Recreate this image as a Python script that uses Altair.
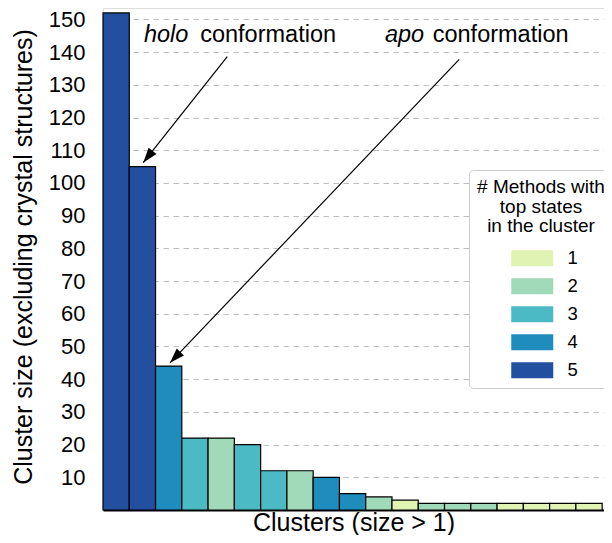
import math
import altair as alt
import pandas as pd

# ---------------- data ----------------
cluster_sizes = [152, 105, 44, 22, 22, 20, 12, 12, 10, 5, 4, 3, 2, 2, 2, 2, 2, 2, 2]
n_methods = [5, 5, 4, 3, 2, 3, 3, 2, 4, 4, 2, 1, 2, 2, 2, 1, 1, 1, 1]
method_levels = [1, 2, 3, 4, 5]
method_colors = ["#e1f3b3", "#a1dab9", "#4cbac4", "#1f8cbe", "#234fa0"]
y_ticks = list(range(10, 151, 10))

# annotations (data units: x = cluster slot, y = cluster size)
label_italic = ["holo", "apo"]
label_rest = ["conformation", "conformation"]
label_x_italic = [1.56, 10.73]
label_x_rest = [3.70, 12.55]
label_y = [143.2, 143.2]
arrow_x_start = [4.73, 13.56]
arrow_y_start = [138.6, 137.8]
arrow_x_tip = [1.53, 2.55]
arrow_y_tip = [106.2, 45.0]

legend_title = ["# Methods with", "top states", "in the cluster"]
x_title = "Clusters (size > 1)"
y_title = "Cluster size (excluding crystal structures)"

# ---------------- layout ----------------
FONT = "Liberation Sans"
W, H = 501, 502
XMAX, YMAX = 19.07, 153.5
SX, SY = W / XMAX, H / YMAX

bars = pd.DataFrame({
    "start": list(range(len(cluster_sizes))),
    "end": [i + 1 for i in range(len(cluster_sizes))],
    "size": cluster_sizes,
    "methods": n_methods,
})

arrows = pd.DataFrame({
    "xs": arrow_x_start, "ys": arrow_y_start,
    "xt": arrow_x_tip, "yt": arrow_y_tip,
})
# rotation (clockwise from "up") of the arrow direction in screen space
arrows["ang"] = [
    math.degrees(math.atan2((xt - xs) * SX, (yt - ys) * SY)) % 360
    for xs, ys, xt, yt in zip(arrow_x_start, arrow_y_start, arrow_x_tip, arrow_y_tip)
]

labels_it = pd.DataFrame({"x": label_x_italic, "y": label_y, "t": label_italic})
labels_rest = pd.DataFrame({"x": label_x_rest, "y": label_y, "t": label_rest})

xscale = alt.Scale(domain=[0, XMAX], nice=False, zero=False)
yscale = alt.Scale(domain=[0, YMAX], nice=False)

x_axis = alt.Axis(title=x_title, labels=False, ticks=False, grid=False,
                  domain=True, domainColor="black", domainWidth=2,
                  titleFont=FONT, titleFontSize=25, titleFontWeight="normal",
                  titleColor="black", titleBaseline="alphabetic", titleY=20)
y_axis = alt.Axis(title=y_title, values=y_ticks, ticks=False,
                  tickSize=0, domain=False, grid=True, gridColor="#bdbdbd",
                  gridDash=[5.5, 4.5], gridWidth=1,
                  labelFont=FONT, labelFontSize=22, labelColor="black",
                  labelPadding=18, labelOverlap=False, labelBound=False,
                  labelSeparation=0,
                  titleFont=FONT, titleFontSize=25, titleFontWeight="normal",
                  titleColor="black", titleBaseline="alphabetic",
                  titleX=-72, titleY=248.5)

bar_layer = alt.Chart(bars).mark_rect(stroke="black", strokeWidth=1.2).encode(
    x=alt.X("start:Q", scale=xscale, axis=x_axis),
    x2="end:Q",
    y=alt.Y("size:Q", scale=yscale, axis=y_axis),
    y2=alt.datum(0),
    color=alt.Color("methods:N",
                    scale=alt.Scale(domain=method_levels, range=method_colors),
                    legend=alt.Legend(
                        title=legend_title, orient="none", legendX=366, legendY=162,
                        titleFont=FONT, titleFontSize=19, titleFontWeight="normal",
                        titleColor="black", titleAlign="center", titleAnchor="middle",
                        titleLineHeight=19.5, titlePadding=13,
                        labelFont=FONT, labelFontSize=18.5, labelColor="black",
                        labelOffset=39,
                        symbolType="M-1,-1H4.25V1H-1Z", symbolSize=256,
                        symbolStrokeWidth=0, symbolOpacity=1, symbolOffset=5,
                        rowPadding=9,
                        fillColor="white", strokeColor="#cccccc", cornerRadius=4,
                        padding=8)),
)

arrow_lines = alt.Chart(arrows).mark_rule(color="black", strokeWidth=1.2).encode(
    x=alt.X("xs:Q", scale=xscale, axis=x_axis),
    y=alt.Y("ys:Q", scale=yscale, axis=y_axis),
    x2="xt:Q", y2="yt:Q",
)

arrow_heads = alt.Chart(arrows).mark_point(
    shape="M0,0L-0.667,2L0.667,2Z", size=225, filled=True, opacity=1,
    color="black", strokeWidth=0,
).encode(
    x=alt.X("xt:Q", scale=xscale, axis=x_axis),
    y=alt.Y("yt:Q", scale=yscale, axis=y_axis),
    angle=alt.Angle("ang:Q", scale=None),
)

txt_it = alt.Chart(labels_it).mark_text(
    font=FONT, fontSize=23.5, fontStyle="italic", align="left", baseline="alphabetic",
    color="black",
).encode(x=alt.X("x:Q", scale=xscale, axis=x_axis),
         y=alt.Y("y:Q", scale=yscale, axis=y_axis), text="t:N")

txt_rest = alt.Chart(labels_rest).mark_text(
    font=FONT, fontSize=23.5, align="left", baseline="alphabetic", color="black",
).encode(x=alt.X("x:Q", scale=xscale, axis=x_axis),
         y=alt.Y("y:Q", scale=yscale, axis=y_axis), text="t:N")

chart = alt.layer(bar_layer, arrow_lines, arrow_heads, txt_it, txt_rest).properties(
    width=W, height=H,
    autosize=alt.AutoSizeParams(type="none"),
    padding={"left": 95, "top": 0, "right": 0, "bottom": 25},
).configure_view(stroke=None).configure_axis(labelOverlap=False).configure(
    background="white")

chart.save("out.html", embed_options={"renderer": "svg", "actions": False})
